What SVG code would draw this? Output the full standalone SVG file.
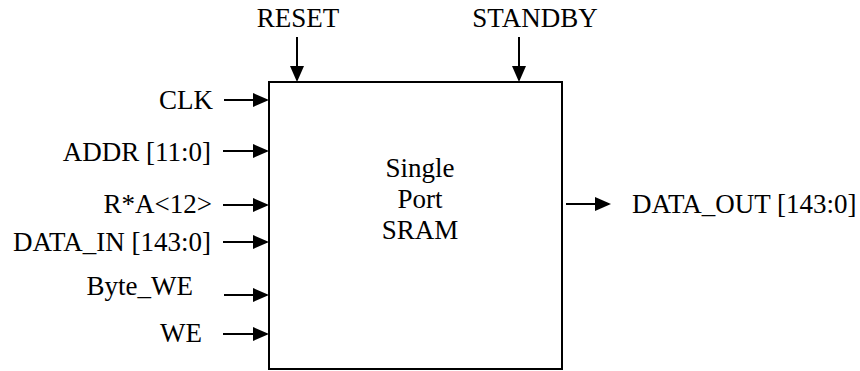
<svg xmlns="http://www.w3.org/2000/svg" width="860" height="371" viewBox="0 0 860 371">
  <style>
    .end { text-anchor: end; }
    .mid { text-anchor: middle; }
    .wire { stroke: #000; stroke-width: 2; fill: none; marker-end: url(#arrow); }
    .box { fill: #fff; stroke: #000; stroke-width: 2; }
  </style>
  <defs>
    <marker id="arrow" viewBox="0 0 16 14" refX="14" refY="7" markerWidth="16" markerHeight="14" markerUnits="userSpaceOnUse" orient="auto">
      <path d="M0,0 L16,7 L0,14 z" fill="#000"/>
    </marker>
  </defs>
  <rect width="860" height="371" fill="#fff"/>

  <g font-family="'Liberation Serif', 'Times New Roman', Times, serif" font-size="27" fill="#000">
    <g id="sram">
      <rect class="box" x="269" y="82" width="293" height="287"/>
      <text class="mid" x="420" y="177">Single</text>
      <text class="mid" x="420" y="208">Port</text>
      <text class="mid" x="420" y="239">SRAM</text>
    </g>

    <g id="reset"><text class="mid" x="298" y="27">RESET</text></g>
    <g id="standby"><text class="mid" x="535" y="27">STANDBY</text></g>
    <g id="clk"><text class="end" x="213" y="109">CLK</text></g>
    <g id="addr"><text class="end" x="211" y="161">ADDR [11:0]</text></g>
    <g id="ra"><text class="end" x="212" y="213">R*A&lt;12&gt;</text></g>
    <g id="data_in"><text class="end" x="211" y="251">DATA_IN [143:0]</text></g>
    <g id="byte_we"><text class="end" x="193" y="295">Byte_WE</text></g>
    <g id="we"><text class="end" x="202" y="342">WE</text></g>
    <g id="data_out"><text x="632" y="213">DATA_OUT [143:0]</text></g>
  </g>

  <g id="connectors">
    <line class="wire" x1="297" y1="37" x2="297" y2="80"/>
    <line class="wire" x1="519" y1="37" x2="519" y2="80"/>
    <line class="wire" x1="224" y1="100" x2="267" y2="100"/>
    <line class="wire" x1="223" y1="151" x2="267" y2="151"/>
    <line class="wire" x1="223" y1="205" x2="267" y2="205"/>
    <line class="wire" x1="223" y1="242" x2="267" y2="242"/>
    <line class="wire" x1="224" y1="295" x2="267" y2="295"/>
    <line class="wire" x1="223" y1="334" x2="267" y2="334"/>
    <line class="wire" x1="566" y1="204" x2="609" y2="204"/>
  </g>
</svg>
